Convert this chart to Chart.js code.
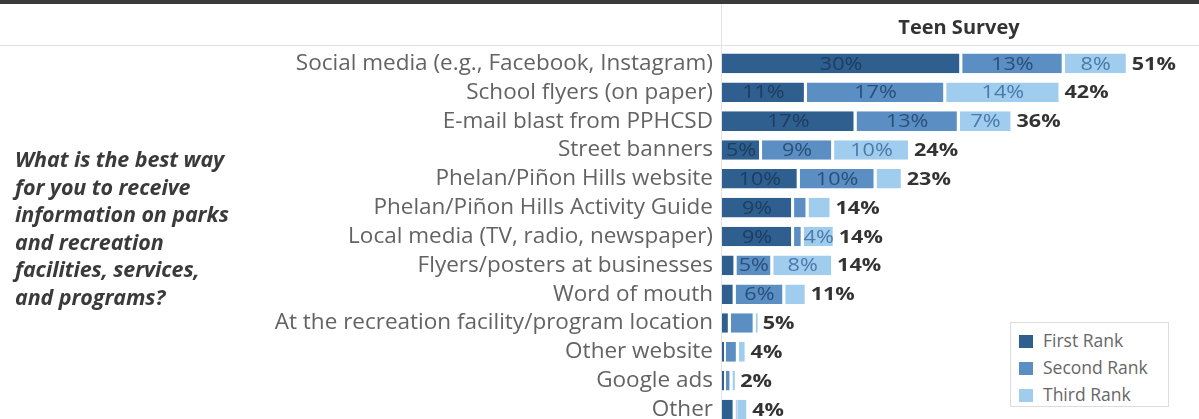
<!DOCTYPE html>
<html>
<head>
<meta charset="utf-8">
<script src="https://cdn.jsdelivr.net/npm/chart.js@4"></script>
<style>
  html, body { margin: 0; padding: 0; background: #fff; overflow: hidden; }
  #wrap { position: relative; width: 1199px; height: 424px; }
  #question {
    position: absolute; left: 15px; top: 145px;
    font: italic bold 21.5px "Open Sans", sans-serif; line-height: 27.6px; color: #3a3a3a;
    letter-spacing: -0.1px;
  }
  #legend {
    position: absolute; left: 1010px; top: 322px; width: 157px; height: 83px;
    border: 1px solid #dcdcdc; background: #fff;
  }
  #legend div { position: absolute; left: 8px; font: 17.5px "Open Sans", sans-serif; color: #666; line-height: 20px; white-space: nowrap; }
  #legend span { display: inline-block; width: 14px; height: 13px; vertical-align: -1px; margin-right: 10px; }
</style>
</head>
<body>
<div id="wrap">
  <canvas id="chart" width="1199" height="424"></canvas>
  <div id="question">What is the best way<br>for you to receive<br>information on parks<br>and recreation<br>facilities, services,<br>and programs?</div>
  <div id="legend"></div>
</div>
<script>
const categories = [
  "Social media (e.g., Facebook, Instagram)",
  "School flyers (on paper)",
  "E-mail blast from PPHCSD",
  "Street banners",
  "Phelan/Piñon Hills website",
  "Phelan/Piñon Hills Activity Guide",
  "Local media (TV, radio, newspaper)",
  "Flyers/posters at businesses",
  "Word of mouth",
  "At the recreation facility/program location",
  "Other website",
  "Google ads",
  "Other"
]
const firstRank  = [30, 10.6, 16.8, 5, 9.7, 9, 9, 1.8, 1.7, 1.1, 0.5, 0.5, 1.7]
const secondRank = [12.8, 17.4, 12.9, 9, 9.6, 1.8, 1.2, 4.6, 6.2, 3.1, 1.6, 0.8, 0.2]
const thirdRank  = [8, 14.4, 6.7, 9.6, 3.4, 3, 4, 7.6, 2.8, 0.5, 1.1, 0.6, 1.5]
const totals     = [51, 42, 36, 24, 23, 14, 14, 14, 11, 5, 4, 2, 4]
const seriesNames = ["First Rank", "Second Rank", "Third Rank"]
const seriesColors = ["#2f5f8f", "#5b8ec2", "#a0cdee"]
const textColors = ["#1d3d63", "#2a4f7a", "#4a7aa8"]

const legend = document.getElementById("legend")
seriesNames.forEach((name, i) => {
  const row = document.createElement("div")
  row.style.top = (7 + i * 27) + "px"
  row.innerHTML = `<span style="background:${seriesColors[i]}"></span>${name}`
  legend.appendChild(row)
})

// frame lines: dark top border, header rule and the divider
const framePlugin = {
  id: "frame",
  beforeDraw(chart) {
    const ctx = chart.ctx
    const left = chart.chartArea.left
    ctx.save()
    ctx.fillStyle = "#e2e2e2"
    ctx.fillRect(0, 45, chart.width, 1)
    ctx.fillRect(left - 1, 4, 1, chart.height)
    ctx.fillStyle = "#3a3a3a"
    ctx.fillRect(0, 0, chart.width, 4)
    ctx.restore()
  }
}

// text in the source is drawn a bit wide, so stretch it horizontally
function wideText(ctx, text, x, y, sx) {
  ctx.save()
  ctx.translate(x, y)
  ctx.scale(sx, 1)
  ctx.fillText(text, 0, 0)
  ctx.restore()
}

const labelPlugin = {
  id: "barLabels",
  afterDatasetsDraw(chart) {
    const ctx = chart.ctx
    ctx.save()
    ctx.textBaseline = "middle"
    chart.data.datasets.forEach((ds, i) => {
      const meta = chart.getDatasetMeta(i)
      meta.data.forEach((bar, j) => {
        const v = ds.data[j]
        if (v >= 3.9) {
          ctx.font = '18px "Open Sans", sans-serif'
          ctx.fillStyle = textColors[i]
          ctx.textAlign = "center"
          wideText(ctx, Math.round(v) + "%", (bar.base + bar.x) / 2 - 1, bar.y + 1, 1.2)
        }
      })
    })
    const last = chart.getDatasetMeta(chart.data.datasets.length - 1)
    last.data.forEach((bar, j) => {
      ctx.font = 'bold 18px "Open Sans", sans-serif'
      ctx.fillStyle = "#333"
      ctx.textAlign = "left"
      wideText(ctx, totals[j] + "%", bar.x + 3, bar.y + 1, 1.2)
    })
    ctx.restore()
  }
}

const datasets = [firstRank, secondRank, thirdRank].map((values, i) => ({
  label: seriesNames[i],
  data: values,
  backgroundColor: seriesColors[i],
  borderColor: "#ffffff",
  borderWidth: { right: 3, left: 0, top: 0, bottom: 0 },
  borderSkipped: false,
  categoryPercentage: 1,
  barPercentage: 0.68
}))

new Chart(document.getElementById("chart"), {
  type: "bar",
  data: { labels: categories, datasets: datasets },
  options: {
    indexAxis: "y",
    responsive: false,
    animation: false,
    layout: { padding: { left: 0, right: 3, top: 0, bottom: 0 } },
    plugins: {
      legend: { display: false },
      tooltip: { enabled: false },
      title: {
        display: true,
        text: "Teen Survey",
        fullSize: false,
        color: "#333",
        font: { family: "Open Sans", size: 20, weight: "bold" },
        padding: { top: 16, bottom: 9 }
      }
    },
    scales: {
      x: { stacked: true, min: 0, max: 59.2, display: false },
      y: {
        stacked: true,
        grid: { display: false, drawTicks: false },
        border: { display: false },
        afterFit(scale) {
          scale.width = 722
          scale.paddingTop = 0
          scale.paddingBottom = 0
        },
        ticks: {
          autoSkip: false,
          padding: 9,
          color: "#636363",
          font: { family: "Open Sans", size: 22.5 }
        }
      }
    }
  },
  plugins: [framePlugin, labelPlugin]
})
</script>
</body>
</html>
